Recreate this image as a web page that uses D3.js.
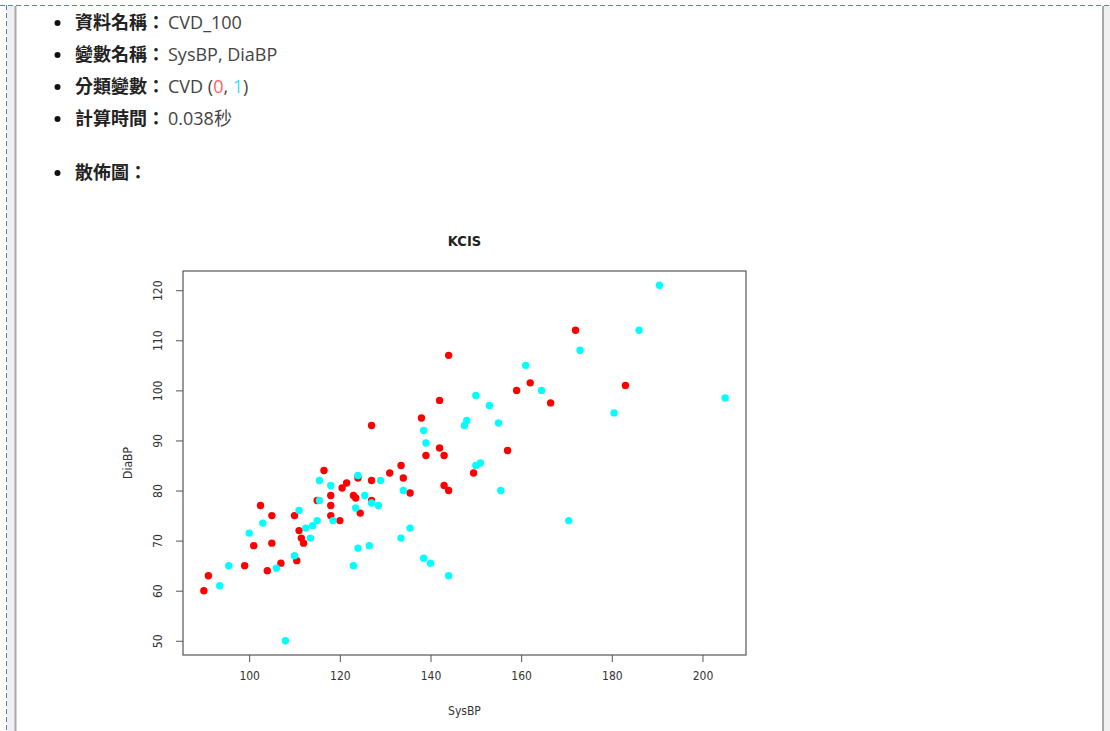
<!DOCTYPE html>
<html>
<head>
<meta charset="utf-8">
<script src="https://cdn.jsdelivr.net/npm/d3@7"></script>
<style>
  html, body { margin: 0; padding: 0; background: #fff; }
  svg { display: block; }
</style>
</head>
<body>
<svg id="page" width="1110" height="731"></svg>
<script>
// ---- data ----
const infoLabels = ["資料名稱：", "變數名稱：", "分類變數：", "計算時間：", "散佈圖："];
const infoValues = ["CVD_100", "SysBP, DiaBP", "CVD", "0.038秒", ""];
const groupNames = ["0", "1"];
const groupColors = ["#ff0000", "#00ffff"];
const groupTextColors = ["#ff6060", "#30e8f0"];
const chartTitle = "KCIS";
const xLabel = "SysBP";
const yLabel = "DiaBP";
const xTicks = [100, 120, 140, 160, 180, 200];
const yTicks = [50, 60, 70, 80, 90, 100, 110, 120];

// CVD = 0 (red)
const sys0 = [90, 91, 99, 101, 102.5, 104, 105, 105, 107, 110, 110.5, 111, 111.5, 112, 115, 116.5, 118, 118, 118, 120, 120.5, 121.5, 123, 123.5, 124, 124.5, 127, 127, 127, 131, 133.5, 134, 135.5, 138, 139, 142, 142, 143, 143, 144, 144, 149.5, 157, 159, 162, 166.5, 172, 183];
const dia0 = [60, 63, 65, 69, 77, 64, 75, 69.5, 65.5, 75, 66, 72, 70.5, 69.5, 78, 84, 79, 77, 75, 74, 80.5, 81.5, 79, 78.5, 82.5, 75.5, 93, 82, 78, 83.5, 85, 82.5, 79.5, 94.5, 87, 98, 88.5, 87, 81, 107, 80, 83.5, 88, 100, 101.5, 97.5, 112, 101];
// CVD = 1 (cyan)
const sys1 = [93.5, 95.5, 100, 103, 106, 108, 110, 111, 112.5, 113.5, 114, 115, 115.5, 115.5, 118, 118.5, 123, 123.5, 124, 124, 125.5, 126.5, 127, 128.5, 129, 133.5, 134, 135.5, 138.5, 138.5, 139, 140, 144, 147.5, 148, 150, 150, 151, 153, 155, 155.5, 161, 164.5, 170.5, 173, 180.5, 186, 190.5, 205];
const dia1 = [61, 65, 71.5, 73.5, 64.5, 50, 67, 76, 72.5, 70.5, 73, 74, 78, 82, 81, 74, 65, 76.5, 83, 68.5, 79, 69, 77.5, 77, 82, 70.5, 80, 72.5, 92, 66.5, 89.5, 65.5, 63, 93, 94, 99, 85, 85.5, 97, 93.5, 80, 105, 100, 74, 108, 95.5, 112, 121, 98.5];

// ---- page frame ----
const svg = d3.select("#page");
svg.append("rect").attr("x", 7).attr("y", 6).attr("width", 8).attr("height", 725).attr("fill", "#f0f0f0");
svg.append("line").attr("x1", 15.5).attr("x2", 15.5).attr("y1", 6).attr("y2", 731).attr("stroke", "#a8a8a8").attr("stroke-width", 2);
svg.append("rect").attr("x", 1104).attr("y", 6).attr("width", 6).attr("height", 725).attr("fill", "#f0f0f0");
svg.append("line").attr("x1", 1103).attr("x2", 1103).attr("y1", 6).attr("y2", 731).attr("stroke", "#a8a8a8").attr("stroke-width", 2);
svg.append("line").attr("x1", 0).attr("x2", 1110).attr("y1", 5.5).attr("y2", 5.5)
  .attr("stroke", "#5b80d0").attr("stroke-width", 1).attr("stroke-dasharray", "5,3");
svg.append("line").attr("x1", 6.5).attr("x2", 6.5).attr("y1", 5).attr("y2", 731)
  .attr("stroke", "#5b80d0").attr("stroke-width", 1).attr("stroke-dasharray", "5,3");

// ---- info list ----
const lineY = [29, 61, 93, 125, 179];
const info = svg.append("g").attr("font-size", 18)
  .attr("font-family", "'Open Sans', 'Noto Sans', 'Noto Sans CJK TC', sans-serif");
infoLabels.forEach((lab, i) => {
  info.append("circle").attr("cx", 57.5).attr("cy", lineY[i] - 6).attr("r", 3).attr("fill", "#111");
  const t = info.append("text").attr("x", 75).attr("y", lineY[i]);
  t.append("tspan").attr("font-family", "'Noto Sans CJK TC', sans-serif").attr("font-weight", 700)
    .attr("fill", "#222").text(lab);
  if (infoValues[i]) t.append("tspan").attr("dx", 3).attr("fill", "#444").text(infoValues[i]);
  if (i === 2) {
    t.append("tspan").attr("fill", "#444").text(" (");
    t.append("tspan").attr("fill", groupTextColors[0]).text(groupNames[0]);
    t.append("tspan").attr("fill", "#444").text(", ");
    t.append("tspan").attr("fill", groupTextColors[1]).text(groupNames[1]);
    t.append("tspan").attr("fill", "#444").text(")");
  }
});

// ---- scatter plot ----
const plot = { left: 183, right: 746, top: 271, bottom: 655 };
const allX = sys0.concat(sys1), allY = dia0.concat(dia1);
const xr = d3.extent(allX), yr = d3.extent(allY);
const xPad = (xr[1] - xr[0]) * 0.04, yPad = (yr[1] - yr[0]) * 0.04;
const x = d3.scaleLinear().domain([xr[0] - xPad, xr[1] + xPad]).range([plot.left, plot.right]);
const y = d3.scaleLinear().domain([yr[0] - yPad, yr[1] + yPad]).range([plot.bottom, plot.top]);

const chartFont = "'Liberation Sans Narrow', 'DejaVu Sans Condensed', 'Liberation Sans', sans-serif";
const ch = svg.append("g").attr("font-family", chartFont);

ch.append("text").attr("x", (plot.left + plot.right) / 2).attr("y", 246)
  .attr("text-anchor", "middle").attr("font-weight", "bold").attr("font-size", 14.5)
  .attr("fill", "#222").text(chartTitle);

const gx = ch.append("g").attr("transform", `translate(0,${plot.bottom})`)
  .call(d3.axisBottom(x).tickValues(xTicks).tickSize(7).tickPadding(9).tickFormat(d3.format("d")));
gx.select(".domain").remove();
gx.selectAll("line").attr("stroke", "#555");
gx.selectAll("text").attr("font-size", 12).attr("fill", "#333").attr("font-family", chartFont);

const gy = ch.append("g").attr("transform", `translate(${plot.left},0)`)
  .call(d3.axisLeft(y).tickValues(yTicks).tickSize(7).tickFormat(d3.format("d")));
gy.select(".domain").remove();
gy.selectAll("line").attr("stroke", "#555");
gy.selectAll("text").attr("font-size", 12).attr("fill", "#333").attr("font-family", chartFont)
  .attr("transform", "rotate(-90)").attr("x", 0).attr("y", -25).attr("dy", null)
  .attr("text-anchor", "middle").attr("dominant-baseline", "central");

ch.append("rect").attr("x", plot.left).attr("y", plot.top)
  .attr("width", plot.right - plot.left).attr("height", plot.bottom - plot.top)
  .attr("fill", "none").attr("stroke", "#555").attr("stroke-width", 1.2);

ch.append("text").attr("x", (plot.left + plot.right) / 2).attr("y", 715)
  .attr("text-anchor", "middle").attr("font-size", 12).attr("fill", "#333").text(xLabel);
ch.append("text").attr("transform", `translate(128,${(plot.top + plot.bottom) / 2}) rotate(-90)`)
  .attr("text-anchor", "middle").attr("dominant-baseline", "central")
  .attr("font-size", 12).attr("fill", "#333").text(yLabel);

const pts0 = sys0.map((s, i) => ({ s, d: dia0[i], g: 0 }));
const pts1 = sys1.map((s, i) => ({ s, d: dia1[i], g: 1 }));
ch.append("g").selectAll("circle").data(pts0.concat(pts1)).join("circle")
  .attr("cx", p => x(p.s)).attr("cy", p => y(p.d)).attr("r", 3.7)
  .attr("fill", p => groupColors[p.g]);
</script>
</body>
</html>
